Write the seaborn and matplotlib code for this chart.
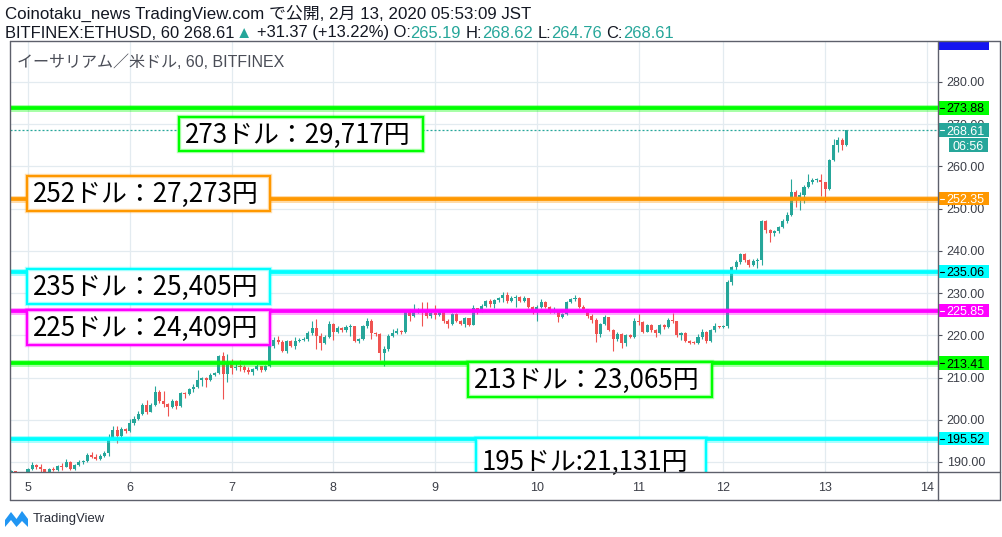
import matplotlib
matplotlib.use("Agg")
import matplotlib.pyplot as plt
import matplotlib.transforms as mtransforms
from matplotlib.patches import Rectangle, Polygon
from matplotlib.lines import Line2D
import numpy as np
import seaborn as sns

# ---------------- data (hourly candles, BITFINEX ETHUSD) ----------------
first_open = 187.6
close = [187.9, 187.0, 186.8, 187.2, 188.3, 189.3, 188.9, 188.3, 187.7, 188.3,
         188.1, 189.1, 188.8, 190.0, 188.3, 189.3, 189.9, 190.2, 191.6, 191.3,
         190.7, 191.5, 192.2, 195.5, 197.6, 196.1, 197.8, 197.4, 199.2, 200.2,
         201.4, 203.6, 201.9, 203.6, 206.6, 204.4, 203.7, 203.0, 204.4, 203.2,
         206.4, 206.1, 207.3, 207.8, 209.4, 209.9, 209.4, 210.6, 211.0, 215.1,
         210.8, 213.4, 212.3, 212.6, 212.5, 211.7, 211.2, 212.0, 212.8, 211.8,
         212.8, 217.5, 218.9, 218.4, 216.4, 218.7, 217.4, 218.7, 219.0, 219.2,
         220.6, 221.7, 219.9, 218.3, 219.5, 222.8, 220.9, 221.7, 221.3, 222.0,
         222.2, 218.6, 219.2, 222.1, 223.5, 220.5, 220.3, 215.8, 216.8, 219.8,
         220.6, 221.1, 220.8, 225.6, 224.5, 225.5, 225.9, 225.5, 224.5, 225.4,
         224.8, 225.6, 223.4, 222.8, 225.0, 223.4, 222.8, 224.0, 222.5, 226.5,
         225.6, 227.0, 228.1, 227.5, 228.3, 228.8, 229.6, 228.1, 228.9, 229.1,
         228.2, 228.9, 226.8, 225.8, 226.8, 228.0, 226.8, 225.5, 225.9, 224.3,
         225.0, 227.9, 228.5, 228.9, 226.8, 226.2, 224.6, 223.6, 220.3, 222.7,
         224.4, 221.3, 219.1, 220.4, 218.2, 220.0, 219.6, 223.5, 223.2, 220.8,
         222.4, 221.2, 220.5, 222.5, 221.9, 223.6, 223.3, 220.0, 220.5, 218.7,
         218.3, 218.1, 219.6, 220.9, 218.6, 221.2, 222.2, 221.9, 222.1, 232.6,
         236.2, 237.4, 239.2, 237.8, 236.7, 237.5, 237.8, 247.1, 244.9, 244.3,
         244.6, 245.7, 247.1, 248.5, 254.0, 252.8, 253.3, 255.1, 256.3, 256.8,
         256.9, 256.3, 254.7, 261.5, 265.1, 266.3, 265.19, 268.61]
high = [188.2, 187.5, 187.2, 187.5, 188.6, 190.0, 189.6, 189.5, 188.3, 188.6,
        188.8, 189.3, 189.8, 190.6, 190.2, 189.5, 190.4, 190.5, 192.1, 192.3,
        191.9, 191.9, 192.7, 196.6, 198.5, 198.5, 198.4, 198.0, 200.1, 201.0,
        202.0, 204.0, 204.7, 204.0, 208.0, 207.0, 206.8, 204.0, 205.0, 204.8,
        206.6, 206.6, 207.6, 208.4, 211.8, 210.1, 210.2, 211.0, 211.4, 215.4,
        216.0, 215.6, 214.4, 213.8, 214.2, 213.0, 212.4, 212.3, 213.2, 212.7,
        213.0, 217.8, 219.5, 219.8, 218.8, 219.0, 218.9, 219.6, 219.4, 219.6,
        221.0, 223.5, 223.9, 220.5, 220.1, 223.5, 223.0, 222.3, 221.9, 222.5,
        222.7, 222.3, 219.4, 222.4, 224.2, 223.9, 220.9, 220.5, 217.5, 220.2,
        221.6, 221.8, 221.2, 226.0, 226.3, 227.4, 226.5, 227.8, 227.8, 225.8,
        227.3, 226.0, 225.7, 223.9, 225.3, 225.2, 223.6, 224.3, 224.2, 227.1,
        226.4, 227.4, 228.4, 228.5, 228.6, 229.1, 230.3, 230.3, 229.2, 229.5,
        229.4, 229.3, 228.9, 227.0, 227.3, 228.5, 228.2, 227.0, 226.8, 226.0,
        225.3, 228.2, 228.9, 229.5, 229.0, 227.2, 225.9, 225.0, 224.0, 223.0,
        224.8, 224.3, 221.4, 220.8, 220.5, 220.4, 220.2, 224.0, 225.0, 223.4,
        222.8, 222.6, 221.4, 222.8, 222.7, 224.0, 225.3, 223.5, 220.9, 220.8,
        219.0, 218.6, 220.3, 221.4, 221.0, 221.5, 223.0, 222.2, 222.4, 233.0,
        236.5, 237.8, 239.6, 239.6, 238.0, 238.0, 238.3, 247.4, 247.3, 245.2,
        244.9, 246.0, 247.6, 249.2, 257.0, 254.3, 253.9, 255.5, 258.2, 257.2,
        257.3, 258.2, 256.4, 261.8, 266.5, 266.9, 266.7, 268.62]
low = [187.4, 186.6, 186.3, 186.7, 187.2, 188.0, 188.4, 187.6, 187.6, 187.6,
       187.9, 187.8, 188.1, 188.7, 188.1, 188.1, 189.1, 189.6, 189.9, 191.0,
       190.4, 190.5, 191.3, 191.5, 195.2, 194.5, 195.8, 196.9, 197.2, 198.8,
       199.9, 201.2, 201.3, 201.8, 203.2, 203.9, 203.0, 200.9, 202.7, 202.5,
       203.0, 205.2, 205.8, 206.5, 207.5, 208.1, 207.8, 209.1, 210.3, 210.8,
       204.9, 209.0, 210.8, 211.9, 211.6, 211.4, 210.8, 210.7, 211.8, 211.3,
       211.5, 212.5, 217.1, 218.0, 216.0, 215.8, 217.2, 216.8, 218.4, 218.6,
       218.6, 220.1, 216.7, 216.6, 218.0, 219.3, 218.8, 220.6, 220.8, 220.7,
       219.9, 218.4, 218.2, 218.9, 221.8, 219.2, 219.8, 214.2, 212.7, 216.3,
       219.6, 220.3, 220.4, 220.5, 223.4, 224.3, 225.3, 222.3, 224.0, 224.2,
       223.8, 224.5, 223.0, 221.8, 222.5, 223.2, 222.4, 221.9, 222.3, 222.4,
       225.0, 225.5, 226.7, 226.8, 226.5, 228.0, 228.0, 227.6, 227.8, 226.7,
       227.9, 228.0, 226.4, 225.0, 223.4, 226.5, 226.4, 225.2, 225.3, 223.2,
       224.0, 224.8, 227.7, 228.1, 226.5, 225.8, 224.0, 223.0, 218.5, 219.6,
       222.5, 221.0, 216.3, 218.7, 217.1, 217.4, 219.3, 219.3, 222.5, 220.5,
       221.0, 220.8, 219.6, 220.2, 221.5, 221.8, 223.0, 219.6, 218.9, 218.4,
       218.0, 217.9, 218.0, 219.2, 218.3, 218.4, 220.9, 221.7, 221.7, 221.8,
       231.9, 235.5, 236.9, 237.4, 236.3, 236.4, 235.9, 236.7, 244.2, 242.1,
       243.6, 244.2, 245.4, 246.6, 248.2, 250.4, 249.7, 251.4, 255.0, 255.9,
       256.4, 253.0, 251.6, 254.4, 261.2, 263.5, 263.9, 264.76]

# day ticks (bar index of each midnight) and labels
day_ticks = [4, 28, 52, 76, 100, 124, 148, 168, 192, 216]
day_labels = ["5", "6", "7", "8", "9", "10", "11", "12", "13", "14"]
price_ticks = [190, 200, 210, 220, 230, 240, 250, 260, 270, 280]

# horizontal levels and their notes
levels = [273.88, 252.35, 235.06, 225.85, 213.41, 195.52]
level_colors = ["#00ff00", "#ff9800", "#00ffff", "#ff00ff", "#00ff00", "#00ffff"]
level_text_colors = ["#000000", "#ffffff", "#000000", "#ffffff", "#000000", "#000000"]
notes = ["273ドル：29,717円", "252ドル：27,273円", "235ドル：25,405円",
         "225ドル：24,409円", "213ドル：23,065円", "195ドル:21,131円"]
countdown = "06:56"

header1 = "Coinotaku_news TradingView.com で公開, 2月 13, 2020 05:53:09 JST"
header2 = [("BITFINEX:ETHUSD, 60 268.61", 0, 0), ("▲", 1, 0.25), ("+31.37 (+13.22%) O:", 0, 1),
           ("265.19", 1, 0), ("H:", 0, 1), ("268.62", 1, 0), ("L:", 0, 1),
           ("264.76", 1, 0), ("C:", 0, 1), ("268.61", 1, 0)]
title = "イーサリアム／米ドル, 60, BITFINEX"

# ---------------- style ----------------
sns.set_theme(style="white")
plt.rcParams["font.family"] = ["Liberation Sans", "Noto Sans CJK JP", "DejaVu Sans"]

UP, DOWN = "#26a69a", "#ef5350"
DARK = "#131722"
AXC = "#50535e"
GRID = "#e3ebf0"
AXFS = 9.0

W, H = 1002, 537
fig = plt.figure(figsize=(W / 100, H / 100), dpi=100)
fig.patch.set_facecolor("white")


def fx(p):
    return p / W


def fy(p):
    return 1 - p / H


ax = fig.add_axes([fx(10), fy(472), fx(938) - fx(10), fy(42) - fy(472)])
ax.set_facecolor("white")
for s in ax.spines.values():
    s.set_visible(False)

c = np.array(close)
o = np.array([first_open] + close[:-1])
hi = np.array(high)
lo = np.array(low)
x = np.arange(len(c))
cols = np.where(c >= o, UP, DOWN)

ax.vlines(x, np.minimum(lo, np.minimum(o, c)), np.maximum(hi, np.maximum(o, c)),
          colors=cols, lw=0.8, zorder=3)
ax.bar(x, np.maximum(np.abs(c - o), 0.22), bottom=np.minimum(o, c), width=0.72,
       color=cols, linewidth=0, zorder=4)

ax.set_xlim(-0.24, 218.6)
ax.set_ylim(187.63, 289.47)

ax.set_xticks(day_ticks)
ax.set_xticklabels(day_labels)
ax.set_yticks(price_ticks)
ax.set_yticklabels([f"{v:.2f}" for v in price_ticks])
ax.yaxis.tick_right()
ax.tick_params(axis="y", direction="out", length=3, width=0.8, pad=3.2,
               labelsize=AXFS, colors=AXC, labelcolor="#3c3f48")
ax.tick_params(axis="x", direction="out", length=3, width=0.8, pad=4,
               labelsize=AXFS, colors=AXC, labelcolor="#3c3f48")
ax.grid(True, color=GRID, lw=0.9)
ax.set_axisbelow(True)

# last price dotted line
ax.axhline(c[-1], color=UP, lw=0.9, ls=(0, (1.6, 1.6)), zorder=2.6)

# level lines
for v, col in zip(levels, level_colors):
    ax.axhline(v, color=col, lw=5.0, alpha=0.35, zorder=5)
    ax.axhline(v, color=col, lw=2.7, zorder=5.1)

# note boxes (pixel layout)
box_px = [(179, 423, 117, 151), (27, 270, 176, 211), (27, 270, 269, 304),
          (27, 270, 310, 345), (468, 712, 362, 397), (476, 706, 438, 484)]
renderer = fig.canvas.get_renderer()
probe = ax.text(0, 0, notes[0], fontsize=19, family=["Noto Sans CJK JP"], transform=fig.transFigure)
pw = probe.get_window_extent(renderer).width
probe.remove()
note_size = 19 * 226 / pw
for (x0, x1, y0, y1), col, txt in zip(box_px, level_colors, notes):
    r = Rectangle((fx(x0), fy(y1)), fx(x1) - fx(x0), fy(y0) - fy(y1), transform=fig.transFigure,
                  facecolor="white", edgecolor=col, lw=1.6, zorder=6)
    ax.add_patch(r)
    r2 = Rectangle((fx(x0), fy(y1)), fx(x1) - fx(x0), fy(y0) - fy(y1), transform=fig.transFigure,
                   facecolor="none", edgecolor=col, lw=3.2, alpha=0.3, zorder=6)
    ax.add_patch(r2)
    ax.text(fx(x0 + 6), fy((y0 + y1) / 2 + 1), txt, transform=fig.transFigure, fontsize=note_size,
            family=["Noto Sans CJK JP"], color="black", ha="left", va="center", zorder=7)

# right-axis price labels
btr = mtransforms.blended_transform_factory(fig.transFigure, ax.transData)
ppu = 4.222  # pixels per price unit
bh = 13.5 / ppu


def axis_label(v, txt, bg, fg, x0=938, x1=989, dash=True):
    ax.add_patch(Rectangle((fx(x0), v - bh / 2), fx(x1) - fx(x0), bh, transform=btr,
                           facecolor=bg, edgecolor="none", clip_on=False, zorder=8))
    if dash:
        ax.add_line(Line2D([fx(940), fx(944)], [v, v], transform=btr, color=fg, lw=0.8,
                           clip_on=False, zorder=9))
        ax.text(fx(946.5), v, txt, transform=btr, fontsize=AXFS, color=fg, ha="left",
                va="center_baseline", clip_on=False, zorder=9)
    else:
        ax.text(fx((x0 + x1) / 2), v, txt, transform=btr, fontsize=AXFS, color=fg, ha="center",
                va="center_baseline", clip_on=False, zorder=9)


for v, col, tc in zip(levels, level_colors, level_text_colors):
    axis_label(v, f"{v:.2f}", col, tc)
axis_label(c[-1], f"{c[-1]:.2f}", UP, "white")
axis_label(c[-1] - 15 / ppu, countdown, UP, "white", x0=949, x1=988, dash=False)

# blue label clipped at the top of the price scale
fig.add_artist(Rectangle((fx(938), fy(49.5)), fx(989) - fx(938), fy(42) - fy(49.5),
                         transform=fig.transFigure, facecolor="#1515f0", edgecolor="none"))

# frame lines
FR = "#5d606b"
for (xa, ya, xb, yb) in [(10, 41.5, 1000, 41.5), (10, 41.5, 10, 500), (10, 472, 1000, 472),
                         (10, 500, 1000, 500), (938, 41.5, 938, 500), (1000, 41.5, 1000, 500)]:
    fig.add_artist(Line2D([fx(xa), fx(xb)], [fy(ya), fy(yb)], color=FR, lw=1.0))

# header texts


def fit(xp, yp, s, target, base=11, **kw):
    t = fig.text(fx(xp), fy(yp), s, fontsize=base, va="center", ha="left", **kw)
    w = t.get_window_extent(renderer).width
    t.set_fontsize(base * target / w)
    return t


fit(5, 14, header1, 524, color=DARK)

full2 = " ".join(seg for seg, _, _ in header2)
t = fig.text(0, 0, full2, fontsize=11)
w2 = t.get_window_extent(renderer).width
t.remove()
size2 = 11 * 688 / w2
ta = fig.text(0, 0, "a a", fontsize=size2)
tb = fig.text(0, 0, "aa", fontsize=size2)
space = ta.get_window_extent(renderer).width - tb.get_window_extent(renderer).width
ta.remove(); tb.remove()
xcur = 5.0
for seg, teal, gap in header2:
    xcur += gap * space
    tt = fig.text(fx(xcur), fy(33), seg, fontsize=size2, va="center", ha="left",
                  color=UP if teal else DARK, family=["Liberation Sans", "DejaVu Sans"])
    xcur += tt.get_window_extent(renderer).width

fit(17, 62, title, 268, color="#4a4d57")

# TradingView logo
logo = Polygon([(fx(5), fy(527)), (fx(5), fy(520)), (fx(11), fy(512)), (fx(16.5), fy(519)),
                (fx(22), fy(511)), (fx(28), fy(519)), (fx(28), fy(527)), (fx(22), fy(521)),
                (fx(16.5), fy(527)), (fx(11), fy(520))], closed=True,
               transform=fig.transFigure, facecolor="#2196f3", edgecolor="none")
fig.add_artist(logo)
fit(33, 519, "TradingView", 72, color="#2a2e39")

fig.savefig("out.png", dpi=100, facecolor="white")
